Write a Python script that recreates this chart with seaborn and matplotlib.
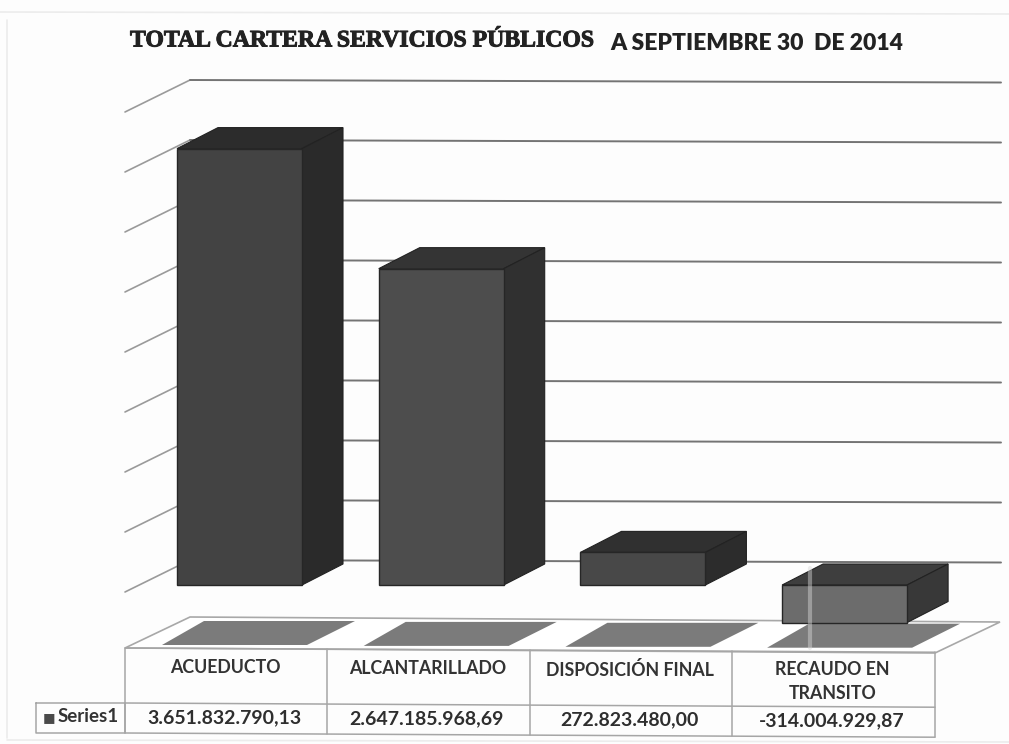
import matplotlib
matplotlib.use('Agg')
import matplotlib.pyplot as plt
import matplotlib.patheffects as pe
from matplotlib.patches import Polygon
from matplotlib.transforms import Affine2D
import pandas as pd
import seaborn as sns

categories = ['ACUEDUCTO', 'ALCANTARILLADO', 'DISPOSICIÓN FINAL', 'RECAUDO EN\nTRANSITO']
values = [3651832790.13, 2647185968.69, 272823480.00, -314004929.87]
value_labels = ['3.651.832.790,13', '2.647.185.968,69', '272.823.480,00', '-314.004.929,87']
grid_values = [0, 0.5e9, 1e9, 1.5e9, 2e9, 2.5e9, 3e9, 3.5e9, 4e9]
front_colors = ['#434343', '#4d4d4d', '#484848', '#6c6c6c']
top_colors = ['#2c2c2c', '#343434', '#303030', '#3e3e3e']
side_colors = ['#2a2a2a', '#303030', '#2c2c2c', '#383838']

W, H = 1009, 744
PX_PER_CAT = 201.7
PX_PER_VALUE = 119.5 / 1e9
GRID_PX_PER_VALUE = 120 / 1e9
X0_PX, Y0_PX = 239.5, 585
SKEW = 0.0052  # the scan is a bit rotated


def xd(px):
    return (px - X0_PX) / PX_PER_CAT


def yd(px):
    return (Y0_PX - px) / PX_PER_VALUE


sns.set_theme(style='white')
fig = plt.figure(figsize=(W / 100, H / 100), dpi=100, facecolor='#fdfdfd')
ax = fig.add_axes([0, 0, 1, 1])
ax.patch.set_alpha(0)

df = pd.DataFrame({'categoria': categories, 'valor': values})
sns.barplot(data=df, x='categoria', y='valor', hue='categoria', palette=front_colors,
            width=125 / PX_PER_CAT, saturation=1, legend=False, ax=ax,
            edgecolor='#262626', linewidth=1)
ax.set_xlim(xd(0), xd(W))
ax.set_ylim(yd(H), yd(0))
ax.axis('off')

# pixel coordinates for the things that are not data
px = Affine2D().scale(1, -1).translate(0, H)

# scan edges
for xs, ys in [([7, 7], [20, 738]), ([0, 1009], [12, 14]), ([7, 1009], [740, 742])]:
    ax.plot(xs, ys, color='#ececec', lw=1.2, transform=px, zorder=0, clip_on=False)

# walls
for v in grid_values:
    y = v * GRID_PX_PER_VALUE
    ax.plot([125, 190], [Y0_PX + 7 - y, Y0_PX - 25 - y], color='#9a9a9a', lw=1.2,
            transform=px, zorder=1)
    ax.plot([190, 1001], [Y0_PX - 25 - y, Y0_PX - 25 - y + 2.5], color='#747474', lw=1.4,
            transform=px, zorder=1)

# floor
ax.add_patch(Polygon([(125, 648), (190, 617), (1000, 622), (935, 653)], closed=True,
                     facecolor='white', edgecolor='#a8a8a8', lw=1.2, transform=px, zorder=1))

# shadows on the floor and the 3d faces of each bar
dx, dy = xd(41) - xd(0), yd(0) - yd(21)
for i, bar in enumerate(ax.patches[:len(values)]):
    left = bar.get_x()
    right = left + bar.get_width()
    low = min(bar.get_y(), bar.get_y() + bar.get_height())
    high = max(bar.get_y(), bar.get_y() + bar.get_height())
    bar.set_zorder(4)

    sx0, sx1 = left - 15 / PX_PER_CAT, right + 5 / PX_PER_CAT
    ax.add_patch(Polygon([(sx0, yd(645 + i * 0.9)), (xd(27) - xd(0) + left, yd(621 + i * 0.9)),
                          (right + 53 / PX_PER_CAT, yd(621 + i * 0.9)), (sx1, yd(645 + i * 0.9))],
                         closed=True, facecolor='#7b7b7b', edgecolor='none', zorder=2))
    ax.add_patch(Polygon([(left, high), (left + dx, high + dy), (right + dx, high + dy), (right, high)],
                         closed=True, facecolor=top_colors[i], edgecolor='#222222', lw=0.8, zorder=3))
    ax.add_patch(Polygon([(right, low), (right, high), (right + dx, high + dy), (right + dx, low + dy)],
                         closed=True, facecolor=side_colors[i], edgecolor='#222222', lw=0.8, zorder=3))

# light streak from the scanner over the last bar
ax.plot([810, 810], [568, 648], color='#d8d8d8', alpha=0.45, lw=3, transform=px, zorder=5)

# data table
col_x = [125, 327, 530, 732, 935]
line = dict(color='#a6a6a6', lw=1.1, transform=px, zorder=2, clip_on=False)
for x in col_x:
    s = (x - 125) * SKEW
    ax.plot([x, x], [648 + s, 733 + s], **line)
for y in [648, 703, 733]:
    ax.plot([125, 935], [y, y + 810 * SKEW], **line)
ax.plot([36, 125, 125, 36, 36], [703, 703, 733, 733, 703], **line)
ax.text(49, 717.5, '■', fontsize=9.5, color='#4a4a4a', ha='center', va='center', transform=px)
ax.text(58, 717, 'Series1', fontsize=13.5, fontweight='bold', family='Lato', color='#333333',
        ha='left', va='center', transform=px)

for i, (cat, lab) in enumerate(zip(categories, value_labels)):
    xc = (col_x[i] + col_x[i + 1]) / 2
    s = (xc - 125) * SKEW
    ax.text(xc - 1, 667 + s - (1 if '\n' in cat else 0), cat.split('\n')[0], fontsize=12.8, fontweight='bold',
            family='Lato', color='#333333', ha='center', va='center', transform=px)
    if '\n' in cat:
        ax.text(xc - 1, 690 + s, cat.split('\n')[1], fontsize=12.8, fontweight='bold', family='Lato',
                color='#333333', ha='center', va='center', transform=px)
    ax.text(xc - 2, 717 + s, lab, fontsize=14, fontweight='bold', family='Lato', color='#2e2e2e',
            ha='center', va='center', transform=px)

# title, two fonts like in the original
ax.text(130, 41, 'TOTAL CARTERA SERVICIOS PÚBLICOS', fontsize=17.1, fontweight='bold',
        family='Liberation Serif', color='#222222', ha='left', va='center', transform=px,
        path_effects=[pe.withStroke(linewidth=0.7, foreground='#222222')])
ax.text(903, 43, 'A SEPTIEMBRE 30  DE 2014', fontsize=16.5, fontweight='heavy', family='Lato',
        color='#222222', ha='right', va='center', transform=px)

fig.savefig('out.png', dpi=100, facecolor=fig.get_facecolor())
